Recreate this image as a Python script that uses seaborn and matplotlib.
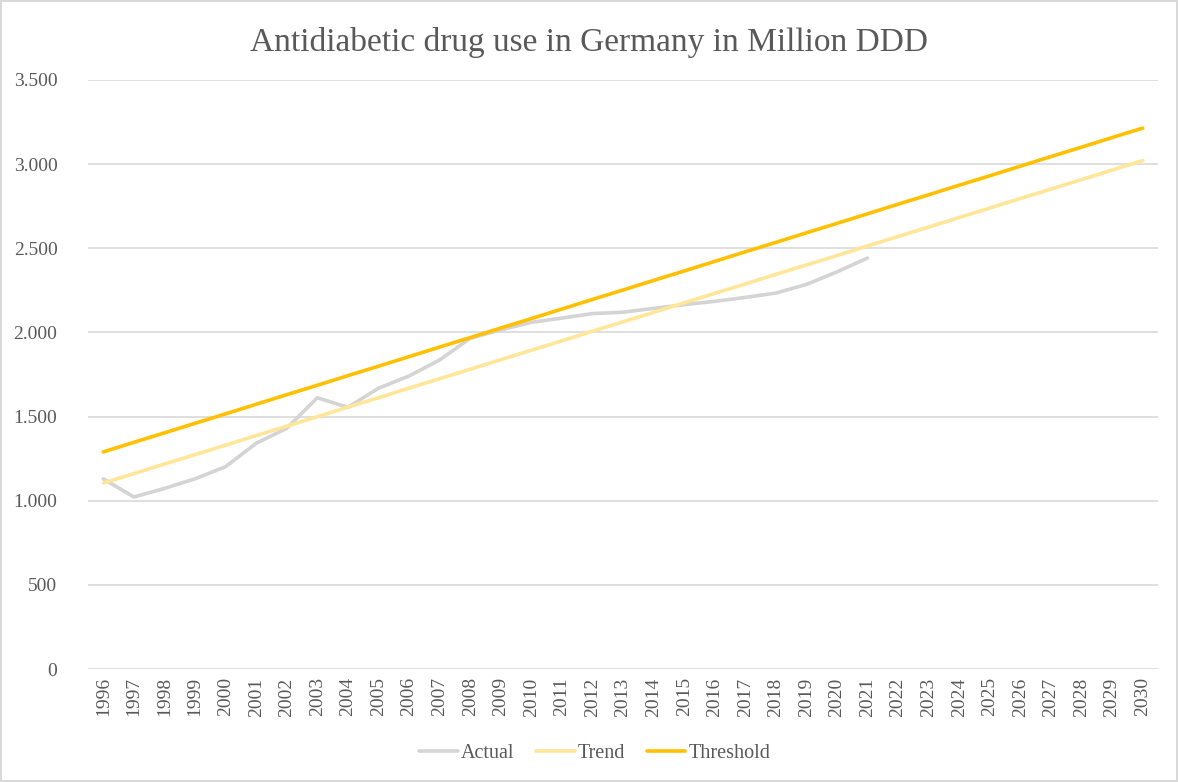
import pandas as pd
import matplotlib.pyplot as plt
import seaborn as sns
from matplotlib.ticker import FuncFormatter

# data
years = [str(y) for y in range(1996, 2031)]
actual = [1130, 1022, 1073, 1130, 1202, 1341, 1430, 1612, 1555, 1668,
          1741, 1836, 1965, 2015, 2060, 2085, 2112, 2120, 2143, 2165,
          2185, 2208, 2234, 2285, 2360, 2442]
trend = [1105, 1161, 1218, 1274, 1330, 1387, 1443, 1499, 1556, 1612,
         1669, 1725, 1781, 1838, 1894, 1950, 2007, 2063, 2119, 2176,
         2232, 2288, 2345, 2401, 2457, 2514, 2570, 2626, 2683, 2739,
         2796, 2852, 2908, 2965, 3021]
threshold = [1290, 1347, 1403, 1460, 1516, 1573, 1630, 1686, 1743, 1799,
             1856, 1913, 1969, 2026, 2082, 2139, 2196, 2252, 2309, 2365,
             2422, 2479, 2535, 2592, 2648, 2705, 2762, 2818, 2875, 2931,
             2988, 3045, 3101, 3158, 3214]

rows = []
for name, vals in [('Actual', actual), ('Trend', trend), ('Threshold', threshold)]:
    for i, v in enumerate(vals):
        rows.append({'pos': i, 'year': years[i], 'value': v, 'series': name})
df = pd.DataFrame(rows)

sns.set_style('white')
plt.rcParams['font.family'] = ['Liberation Serif', 'DejaVu Serif']

fig = plt.figure(figsize=(11.78, 7.82), dpi=100)
fig.patch.set_edgecolor('#D9D9D9')
fig.patch.set_linewidth(1.5)
ax = fig.add_axes([0.0747, 0.1445, 0.9083, 0.7532])

pal = {'Actual': '#D4D4D4', 'Trend': '#FFE699', 'Threshold': '#FFC000'}
sns.lineplot(data=df, x='pos', y='value', hue='series', palette=pal,
             linewidth=2.6, ax=ax, legend=False)

ax.set_xlim(-0.5, len(years) - 0.5)
ax.set_ylim(0, 3500)
ax.set_yticks(range(0, 3501, 500))
ax.yaxis.set_major_formatter(FuncFormatter(lambda v, p: f'{int(v):,}'.replace(',', '.')))
ax.set_xticks(range(len(years)))
ax.set_xticklabels(years, rotation=90)
ax.tick_params(axis='both', length=0, labelsize=14, labelcolor='#595959')
ax.tick_params(axis='y', pad=22)
ax.tick_params(axis='x', pad=6)
ax.grid(axis='y', color='#D9D9D9', linewidth=1.2)
ax.set_axisbelow(True)
for s in ax.spines.values():
    s.set_visible(False)
ax.set_xlabel('')
ax.set_ylabel('')

fig.suptitle('Antidiabetic drug use in Germany in Million DDD', y=0.965,
             fontsize=24, color='#595959')

handles = [plt.Line2D([], [], color=pal[k], linewidth=2.6) for k in ['Actual', 'Trend', 'Threshold']]
fig.legend(handles, ['Actual', 'Trend', 'Threshold'], loc='center',
           bbox_to_anchor=(0.505, 0.036), ncol=3, frameon=False, fontsize=14.5,
           labelcolor='#595959', handlelength=1.9, handletextpad=0.15, columnspacing=1.1)

fig.savefig('out.png', dpi=100, edgecolor=fig.get_edgecolor())
